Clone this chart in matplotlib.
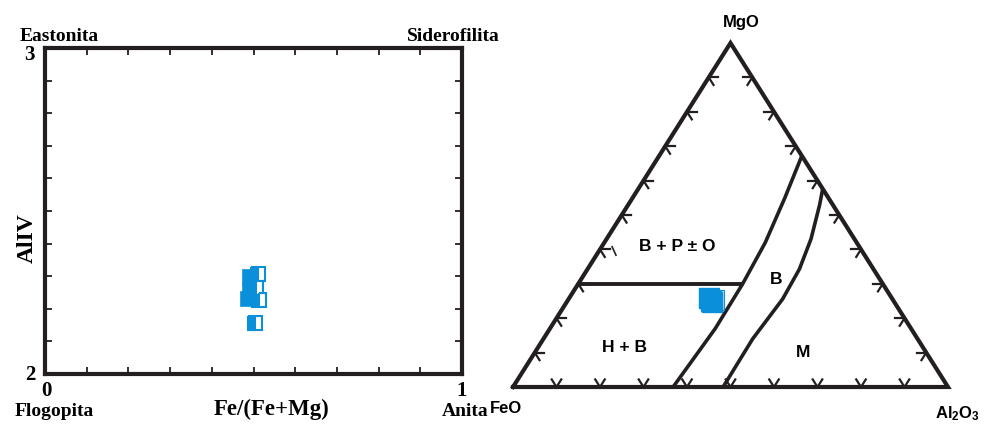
import numpy as np
import matplotlib.pyplot as plt

plt.rcParams['mathtext.fontset'] = 'custom'
plt.rcParams['mathtext.rm'] = 'Liberation Sans:bold'
plt.rcParams['mathtext.bf'] = 'Liberation Sans:bold'

# biotite analyses, AlIV vs Fe/(Fe+Mg)
fe_ratio_full = [0.492, 0.492, 0.487]
aliv_full = [2.298, 2.255, 2.230]
fe_ratio_half = [0.511, 0.506, 0.513, 0.504]
aliv_half = [2.307, 2.264, 2.227, 2.156]

# same analyses in the MgO-FeO-Al2O3 triangle (fractions MgO, Al2O3; FeO = rest)
mgo_pts = [0.259, 0.250, 0.247, 0.253]
al_pts = [0.321, 0.330, 0.334, 0.336]

# field boundaries (MgO, Al2O3)
line_mgo = [0.30, 0.30]
line_al = [0.0, 0.378]
curve1_mgo = [0.672, 0.55, 0.42, 0.30, 0.17, 0.07, 0.0]
curve1_al = [0.328, 0.35, 0.37, 0.378, 0.38, 0.373, 0.368]
curve2_mgo = [0.576, 0.53, 0.43, 0.343, 0.256, 0.14, 0.0]
curve2_al = [0.424, 0.44, 0.47, 0.487, 0.492, 0.481, 0.483]
stray_mgo = [0.41, 0.381]
stray_al = [0.022, 0.047]

blue = '#0a90da'
ink = '#231f20'
serif = 'Liberation Serif'
sans = 'Liberation Sans'


def tern(mgo, al):
    mgo = np.asarray(mgo, float)
    al = np.asarray(al, float)
    return al + mgo / 2, mgo


fig = plt.figure(figsize=(9.89, 4.35), dpi=100)

# ---- left panel
ax = fig.add_axes([45 / 989, 60 / 435, 417 / 989, 326 / 435])
ax.plot(fe_ratio_full, aliv_full, 's', ms=10.5, color=blue, mec=blue, mew=1.2, zorder=3)
ax.plot(fe_ratio_half, aliv_half, 's', ms=10.5, color=blue, mec=blue, mew=1.5,
        fillstyle='left', markerfacecoloralt='white', zorder=3)
ax.set_xlim(0, 1)
ax.set_ylim(2, 3)
ax.set_xticks([])
ax.set_yticks([])
ax.set_xticks(np.arange(0.1, 0.95, 0.1), minor=True)
ax.set_yticks(np.arange(2.1, 2.95, 0.1), minor=True)
ax.tick_params(which='minor', direction='in', length=5, width=1.3, color=ink,
               top=True, right=True, labelbottom=False, labelleft=False)
for sp in ax.spines.values():
    sp.set_linewidth(3)
    sp.set_color(ink)

nkw = dict(family=serif, fontweight='bold', fontsize=15, textcoords='offset pixels',
           va='baseline', annotation_clip=False)
ax.annotate('0', (0, 2), (1, -21), ha='center', **nkw)
ax.annotate('1', (1, 2), (0, -21), ha='center', **nkw)
ax.annotate('2', (0, 2), (-10, -5), ha='right', **nkw)
ax.annotate('3', (0, 3), (-10, -11), ha='right', **nkw)

tkw = dict(family=serif, fontweight='bold', fontsize=14)
fig.text(20 / 989, 1 - 41 / 435, 'Eastonita', ha='left', va='baseline', **tkw)
fig.text(500 / 989, 1 - 41 / 435, 'Siderofilita', ha='right', va='baseline', **tkw)
fig.text(15 / 989, 1 - 416 / 435, 'Flogopita', ha='left', va='baseline', **tkw)
fig.text(488 / 989, 1 - 416 / 435, 'Anita', ha='right', va='baseline', **tkw)
fig.text(272 / 989, 1 - 415 / 435, 'Fe/(Fe+Mg)', ha='center', va='baseline',
         family=serif, fontweight='bold', fontsize=16.5)
fig.text(27 / 989, 1 - 238 / 435, 'AlIV', ha='center', va='center', rotation=90,
         family=serif, fontweight='bold', fontsize=17)

# ---- right panel: ternary
ax2 = fig.add_axes([513 / 989, 47 / 435, 435 / 989, 344 / 435])
ax2.set_xlim(0, 1)
ax2.set_ylim(0, 1)
ax2.axis('off')

tx, ty = tern([0, 0, 1, 0], [0, 1, 0, 0])
ax2.plot(tx, ty, color=ink, lw=3, solid_joinstyle='miter', clip_on=False, zorder=2)

# tick chevrons every 10 %
t = 0.022
for k in np.arange(0.1, 0.95, 0.1):
    # bottom (MgO = 0)
    for dm, dl in [(t, 0), (t, -t)]:
        x, y = tern([0, dm], [k, k + dl])
        ax2.plot(x, y, color=ink, lw=1.6, clip_on=False)
    # left (Al2O3 = 0)
    for dm, dl in [(0, t), (-t, t)]:
        x, y = tern([k, k + dm], [0, dl])
        ax2.plot(x, y, color=ink, lw=1.6, clip_on=False)
    # right (FeO = 0)
    for dm, dl in [(0, -t), (-t, 0)]:
        x, y = tern([k, k + dm], [1 - k, 1 - k + dl])
        ax2.plot(x, y, color=ink, lw=1.6, clip_on=False)

for m, a, w in [(line_mgo, line_al, 2.8), (curve1_mgo, curve1_al, 2.6),
                (curve2_mgo, curve2_al, 2.6), (stray_mgo, stray_al, 1.2)]:
    x, y = tern(m, a)
    ax2.plot(x, y, color=ink, lw=w, solid_capstyle='butt', solid_joinstyle='round',
             clip_on=False, zorder=2)

px, py = tern(mgo_pts, al_pts)
ax2.plot(px[:3], py[:3], 's', ms=14, color=blue, mec=blue, zorder=4, clip_on=False)
ax2.plot(px[3:], py[3:], 's', ms=14, color=blue, mec=blue, mew=0.8,
         fillstyle='left', markerfacecoloralt='#bfe3f6', zorder=3, clip_on=False)

skw = dict(family=sans, fontweight='bold', ha='center', va='center')
ax2.text(0.377, 0.410, 'B + P \u00b1 O', fontsize=12.5, **skw)
ax2.text(0.257, 0.119, 'H + B', fontsize=12.5, **skw)
ax2.text(0.605, 0.314, 'B', fontsize=12.5, **skw)
ax2.text(0.667, 0.102, 'M', fontsize=12.5, **skw)
ax2.text(0.526, 1.062, 'MgO', fontsize=12, **skw)
ax2.text(-0.016, -0.061, 'FeO', fontsize=12, **skw)
ax2.text(1.021, -0.076, r'$\mathrm{Al_{2}O_{3}}$', fontsize=12, **skw)

fig.savefig('out.png', dpi=100)
